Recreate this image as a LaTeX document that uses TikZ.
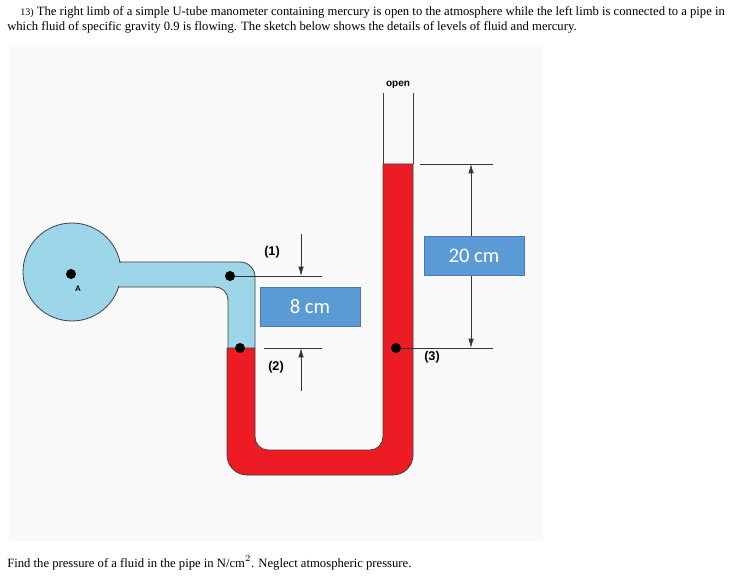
\documentclass[tikz,border=0pt]{standalone}
\usepackage{fontspec}
\setmainfont{Liberation Serif}
\newfontfamily\lsans{Liberation Sans}
\newfontfamily\carl{Carlito}
\usetikzlibrary{arrows.meta}
\definecolor{hg}{HTML}{ED1C24}
\definecolor{fl}{HTML}{9DD6E8}
\definecolor{bx}{HTML}{5B9BD5}
\definecolor{panel}{HTML}{F9F9F9}
\begin{document}
\begin{tikzpicture}[x=0.75pt,y=-0.75pt,
  outl/.style={draw=black!75,line width=0.6pt},
  dimline/.style={draw=black!80,line width=0.5pt},
  dimarrow/.style={draw=black!80,line width=0.5pt,-{Latex[length=7pt,width=4pt]}},
  dot/.style={circle,fill=black,inner sep=0pt,minimum size=7.5pt},
  lbl/.style={font=\lsans\bfseries\fontsize{9.5}{10}\selectfont,inner sep=0pt},
  valbox/.style={fill=bx,draw=bx!80!black,line width=0.4pt,text=white,font=\carl\fontsize{15.5}{16}\selectfont,minimum width=75pt,minimum height=29pt,inner sep=0pt},
  txt/.style={font=\fontsize{9.5}{11}\selectfont,inner sep=0pt,anchor=base west}]
\useasboundingbox (0,0) rectangle (742,577);
\fill[white] (0,0) rectangle (742,577);
\fill[panel] (9,45) rectangle (543,541);
\node[txt] (h1) at (20,16) {{\fontsize{7.5}{8}\selectfont 13)} The right limb of a simple U-tube manometer containing mercury is open to the atmosphere while the left limb is connected to a pipe in};
\node[txt] (h2) at (7,31) {which fluid of specific gravity 0.9 is flowing. The sketch below shows the details of levels of fluid and mercury.};
\node[txt] (ft) at (7,567) {Find the pressure of a fluid in the pipe in N/cm$^2$. Neglect atmospheric pressure.};
% blue fluid
\fill[fl] (72,272) circle[radius=49];
\fill[fl] (110,262) -- (240,262) .. controls (248.3,262) and (255,268.7) .. (255,277) -- (255,348) -- (228,348) -- (228,300) .. controls (228,292.8) and (222.2,287) .. (215,287) -- (110,287) -- cycle;
\draw[outl] (72,272) circle[radius=49];
\fill[fl] (110,263.5) rectangle (126,285.5);
\draw[outl] (119,262) -- (240,262) .. controls (248.3,262) and (255,268.7) .. (255,277) -- (255,348);
\draw[outl] (119,287) -- (215,287) .. controls (222.2,287) and (228,292.8) .. (228,300) -- (228,348);
% mercury
\draw[outl,fill=hg] (227,348) -- (227,455) .. controls (227,466) and (236,475) .. (247,475) -- (393,475) .. controls (404,475) and (413,466) .. (413,455) -- (413,164) -- (383,164) -- (383,437) .. controls (383,444.2) and (377.2,450) .. (370,450) -- (268,450) .. controls (260.8,450) and (255,444.2) .. (255,437) -- (255,348) -- cycle;
\draw[outl] (383,93) -- (383,164);
\draw[outl] (413,93) -- (413,164);
\node[font=\lsans\bfseries\fontsize{7.5}{8}\selectfont] (open) at (398,85) {open};
% points
\node[dot] (A) at (71,274) {};
\node[font=\lsans\bfseries\fontsize{6}{7}\selectfont] (Al) at (78,289) {A};
\node[dot] (p1) at (230,276) {};
\node[dot] (p2) at (240,348) {};
\node[dot] (p3) at (396,348) {};
\node[lbl] (l1) at (272,252) {(1)};
\node[lbl] (l2) at (276,367) {(2)};
\node[lbl] (l3) at (432,357) {(3)};
% 8 cm dimension
\coordinate (r1) at (322,276);
\coordinate (r2) at (322,348);
\coordinate (s2) at (264,348);
\draw[dimline] (p1.east) -- (r1);
\draw[dimline] (s2) -- (r2);
\coordinate (a1t) at (301,234);
\coordinate (a1b) at (301,276);
\coordinate (a2t) at (301,348);
\coordinate (a2b) at (301,391);
\draw[dimarrow] (a1t) -- (a1b);
\draw[dimarrow] (a2b) -- (a2t);
\node[valbox] (b8) at (310,307) {8 cm};
% 20 cm dimension
\coordinate (t1) at (420,164);
\coordinate (t2) at (493,164);
\coordinate (u2) at (493,348);
\draw[dimline] (t1) -- (t2);
\draw[dimline] (p3.east) -- (u2);
\node[valbox] (b20) at (474,256) {20 cm};
\coordinate (v1) at (471,164);
\coordinate (v2) at (471,348);
\draw[dimarrow] (b20.north -| v1) -- (v1);
\draw[dimarrow] (b20.south -| v1) -- (v2);
\end{tikzpicture}
\end{document}
